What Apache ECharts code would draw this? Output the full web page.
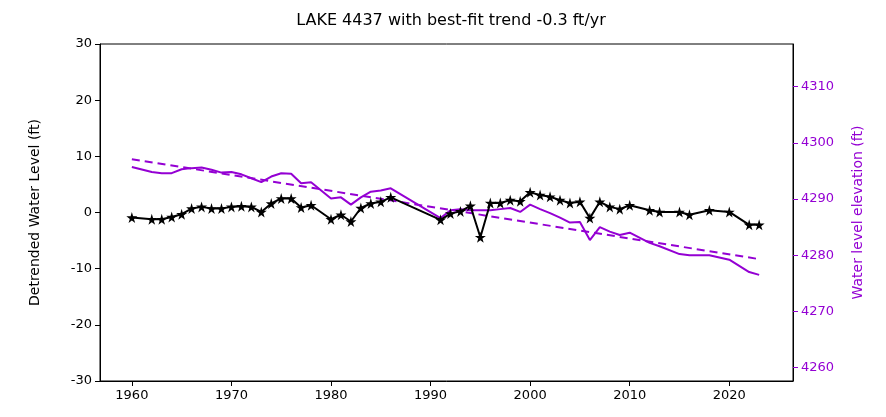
<!DOCTYPE html>
<html>
<head>
<meta charset="utf-8">
<script src="https://cdn.jsdelivr.net/npm/echarts@6/dist/echarts.min.js"></script>
<style>html,body{margin:0;background:#fff}#chart{width:886px;height:417px}</style>
</head>
<body>
<div id="chart"></div>
<script>
const years = [1960,1962,1963,1964,1965,1966,1967,1968,1969,1970,1971,1972,1973,1974,1975,1976,1977,1978,1980,1981,1982,1983,1984,1985,1986,1991,1992,1993,1994,1995,1996,1997,1998,1999,2000,2001,2002,2003,2004,2005,2006,2007,2008,2009,2010,2012,2013,2015,2016,2018,2020,2022,2023];
const detrended = [-0.9,-1.2,-1.2,-0.8,-0.3,0.7,1.0,0.7,0.7,1.0,1.1,1.0,0.1,1.6,2.5,2.5,0.9,1.3,-1.2,-0.4,-1.6,0.8,1.6,1.9,2.7,-1.3,-0.2,0.2,1.2,-4.4,1.7,1.7,2.2,2.0,3.6,3.1,2.8,2.2,1.7,1.9,-1.0,1.9,1.0,0.6,1.3,0.4,0.1,0.1,-0.4,0.4,0.1,-2.2,-2.2];
const elevation = [4295.7,4294.8,4294.6,4294.6,4295.3,4295.5,4295.6,4295.2,4294.7,4294.8,4294.4,4293.7,4293.0,4294.0,4294.6,4294.5,4292.8,4293.0,4290.1,4290.3,4289.0,4290.3,4291.3,4291.5,4291.9,4286.6,4288.0,4288.2,4288.0,4288.0,4288.0,4288.2,4288.4,4287.7,4289.0,4288.2,4287.5,4286.7,4285.8,4285.9,4282.7,4285.0,4284.2,4283.6,4284.0,4282.2,4281.6,4280.2,4280.0,4280.0,4279.2,4277.0,4276.5];
const trendYears = [1960, 2023];
const trendValues = [4297.1, 4279.3];
const xTicks = [1960,1970,1980,1990,2000,2010,2020];
const rightTicks = [4260,4270,4280,4290,4300,4310];

const purple = '#9400D3';
const star = 'path://M50,0 L61,35 L98,35 L68,57 L79,91 L50,70 L21,91 L32,57 L2,35 L39,35 Z';
const font = 'DejaVu Sans';

const chart = echarts.init(document.getElementById('chart'));
chart.setOption({
  animation: false,
  textStyle: { fontFamily: font },
  title: { text: 'LAKE 4437 with best-fit trend -0.3 ft/yr', left: 446, top: 8, textAlign: 'center',
    textStyle: { fontSize: 16, fontWeight: 'normal', color: '#000', fontFamily: font } },
  grid: { left: 100, right: 93, top: 44, bottom: 36, show: true, borderColor: '#000', borderWidth: 1 },
  xAxis: {
    type: 'value', min: 1956.8, max: 2026.4, splitLine: { show: false },
    axisLine: { onZero: false, lineStyle: { color: '#000' } },
    axisTick: { customValues: xTicks, length: 5, lineStyle: { color: '#000' } },
    axisLabel: { customValues: xTicks, color: '#000', fontSize: 13, margin: 8, formatter: v => String(v) }
  },
  yAxis: [{
    type: 'value', min: -30, max: 30, interval: 10, splitLine: { show: false },
    name: 'Detrended Water Level (ft)', nameLocation: 'middle', nameGap: 58,
    nameTextStyle: { color: '#000', fontSize: 14 },
    axisLine: { show: true, onZero: false, lineStyle: { color: '#000' } },
    axisTick: { show: true, length: 5 },
    axisLabel: { color: '#000', fontSize: 13 }
  }, {
    type: 'value', min: 4257.6, max: 4317.6, position: 'right', splitLine: { show: false },
    name: 'Water level elevation (ft)', nameLocation: 'middle', nameGap: 58, nameRotate: 90,
    nameTextStyle: { color: purple, fontSize: 14 },
    axisLine: { show: true, onZero: false, lineStyle: { color: '#000' } },
    axisTick: { show: true, length: 5, customValues: rightTicks, lineStyle: { color: purple } },
    axisLabel: { customValues: rightTicks, color: purple, fontSize: 13, formatter: v => String(v) }
  }],
  series: [{
    type: 'line', yAxisIndex: 1, data: trendYears.map((y, i) => [y, trendValues[i]]),
    symbol: 'none', lineStyle: { color: purple, width: 2, type: [8, 5] }
  }, {
    type: 'line', yAxisIndex: 1, data: years.map((y, i) => [y, elevation[i]]),
    symbol: 'none', lineStyle: { color: purple, width: 2 }
  }, {
    type: 'line', yAxisIndex: 0, data: years.map((y, i) => [y, detrended[i]]),
    symbol: star, symbolSize: 11, itemStyle: { color: '#000' }, lineStyle: { color: '#000', width: 2 }
  }]
});
</script>
</body>
</html>
